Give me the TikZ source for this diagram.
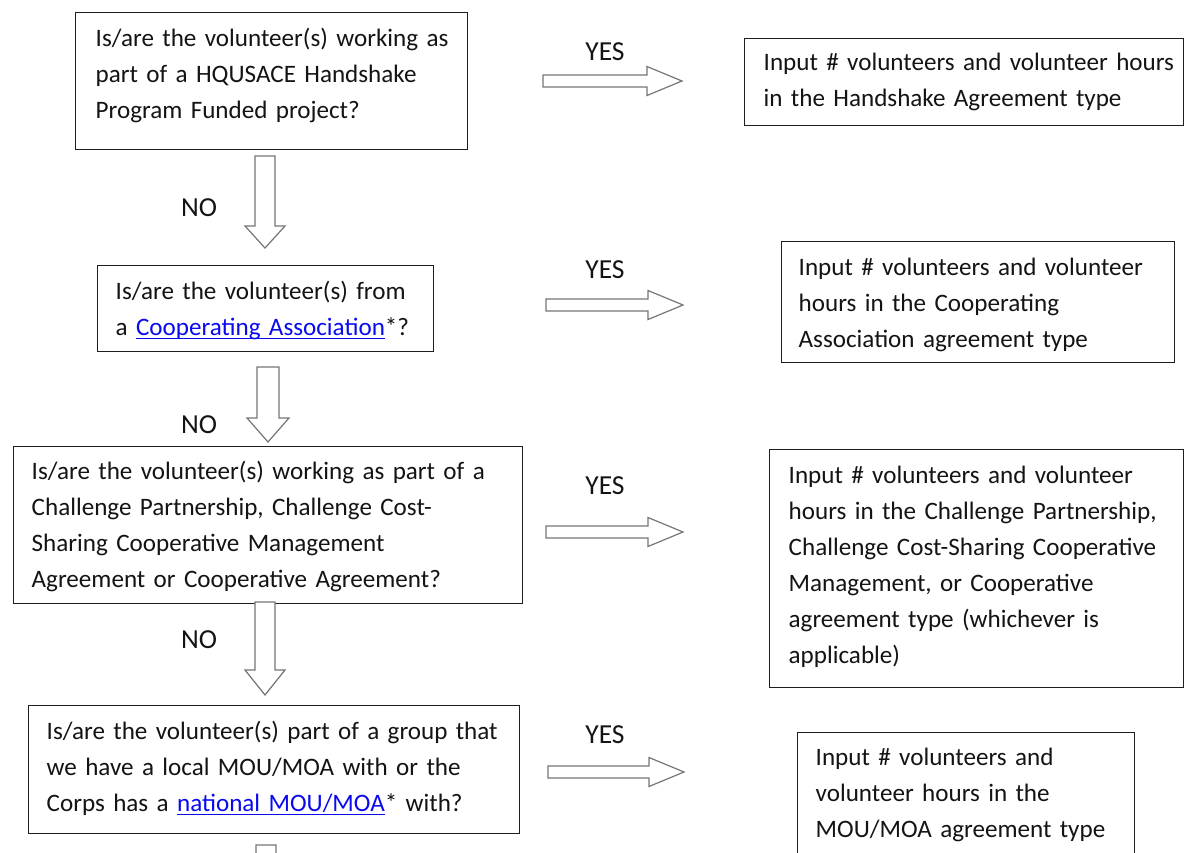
\documentclass[tikz,border=0pt]{standalone}
\usepackage{fontspec}
\setmainfont{Carlito}
\usetikzlibrary{calc}
\definecolor{linkblue}{RGB}{10,10,240}
\definecolor{arrowgray}{RGB}{118,118,118}
\definecolor{boxline}{RGB}{30,30,30}
\newcommand\lnk[1]{\textcolor{linkblue}{\setbox0\hbox{#1}\rlap{\rule[-3.5pt]{\wd0}{1.3pt}}\box0}}
\newcommand\hblock[5]{\draw[blockarrow] let \p1=(#1), \p2=(#2) in
  (\x1,\y1+#3) -- (\x2-#5,\y1+#3) -- (\x2-#5,\y1+#4) -- (\x2,\y1) --
  (\x2-#5,\y1-#4) -- (\x2-#5,\y1-#3) -- (\x1,\y1-#3) -- cycle;}
\newcommand\vblock[5]{\draw[blockarrow] let \p1=(#1), \p2=(#2) in
  (\x1-#3,\y1) -- (\x1+#3,\y1) -- (\x1+#3,\y2+#5) -- (\x1+#4,\y2+#5) --
  (\x1,\y2) -- (\x1-#4,\y2+#5) -- (\x1-#3,\y2+#5) -- cycle;}
\tikzset{
  txt/.style={font=\fontsize{25.1}{36}\selectfont, text=black!92},
  box/.style={txt, draw=boxline, line width=1.4pt, anchor=north west,
    inner ysep=0pt, align=left},
  lbl/.style={font=\fontsize{27.5}{36}\selectfont, text=black!92, anchor=base, inner sep=0pt},
  blockarrow/.style={draw=arrowgray, line width=1.2pt, fill=white, line join=miter},
}
\begin{document}
\begin{tikzpicture}[x=1pt, y=-1pt]
\useasboundingbox (0,0) rectangle (1184,852);
\clip (0,0) rectangle (1184,852);
\fill[white] (0,0) rectangle (1184,852);

% question boxes
\node[box, inner xsep=20pt, text width=352pt, text height=34pt, text depth=103pt] (q1) at (75,12)
  {\mbox{Is/are the volunteer(s) working as}\\\mbox{part of a HQUSACE Handshake}\\\mbox{Program Funded project?}};
\node[box, inner xsep=18pt, text width=300pt, text height=34pt, text depth=52pt] (q2) at (97,265)
  {\mbox{Is/are the volunteer(s) from}\\\mbox{a \lnk{Cooperating Association}*?}};
\node[box, inner xsep=18pt, text width=473pt, text height=33pt, text depth=124pt] (q3) at (13,446)
  {\mbox{Is/are the volunteer(s) working as part of a}\\\mbox{Challenge Partnership, Challenge Cost-}\\\mbox{Sharing Cooperative Management}\\\mbox{Agreement or Cooperative Agreement?}};
\node[box, inner xsep=18pt, text width=455pt, text height=34pt, text depth=94pt] (q4) at (28,705)
  {\mbox{Is/are the volunteer(s) part of a group that}\\\mbox{we have a local MOU/MOA with or the}\\\mbox{Corps has a \lnk{national MOU/MOA}* with?}};

% answer boxes
\node[box, inner xsep=19pt, text width=401pt, text height=32pt, text depth=55pt] (r1) at (744,38)
  {\mbox{Input \# volunteers and volunteer hours}\\\mbox{in the Handshake Agreement type}};
\node[box, inner xsep=17pt, text width=359pt, text height=34pt, text depth=87pt] (r2) at (781,241)
  {\mbox{Input \# volunteers and volunteer}\\\mbox{hours in the Cooperating}\\\mbox{Association agreement type}};
\node[box, inner xsep=19pt, text width=376pt, text height=34pt, text depth=204pt] (r3) at (769,449)
  {\mbox{Input \# volunteers and volunteer}\\\mbox{hours in the Challenge Partnership,}\\\mbox{Challenge Cost-Sharing Cooperative}\\\mbox{Management, or Cooperative}\\\mbox{agreement type (whichever is}\\\mbox{applicable)}};
\node[box, inner xsep=18pt, text width=301pt, text height=33pt, text depth=140pt] (r4) at (797,732)
  {\mbox{Input \# volunteers and}\\\mbox{volunteer hours in the}\\\mbox{MOU/MOA agreement type}};

% labels
\node[lbl] (y1) at (605,60) {YES};
\node[lbl] (y2) at (605,278) {YES};
\node[lbl] (y3) at (605,494) {YES};
\node[lbl] (y4) at (605,743) {YES};
\node[lbl] (n1) at (199,216) {NO};
\node[lbl] (n2) at (199,433) {NO};
\node[lbl] (n3) at (199,648) {NO};

% arrow end points
\coordinate (h1s) at (543,81);  \coordinate (h1t) at (682,81);
\coordinate (h2s) at (546,305); \coordinate (h2t) at (683,305);
\coordinate (h3s) at (546,532); \coordinate (h3t) at (683,532);
\coordinate (h4s) at (548,772); \coordinate (h4t) at (684,772);
\coordinate (v1s) at (265,156); \coordinate (v1t) at (265,248);
\coordinate (v2s) at (268,367); \coordinate (v2t) at (268,442);
\coordinate (v3s) at (265,602); \coordinate (v3t) at (265,695);
\coordinate (v4s) at (266,845); \coordinate (v4t) at (266,940);

\hblock{h1s}{h1t}{6}{14.5}{35}
\hblock{h2s}{h2t}{6}{14.5}{35}
\hblock{h3s}{h3t}{6}{14.5}{35}
\hblock{h4s}{h4t}{6}{14.5}{35}
\vblock{v1s}{v1t}{10}{20}{22}
\vblock{v2s}{v2t}{11}{21}{24}
\vblock{v3s}{v3t}{10}{20}{25}
\vblock{v4s}{v4t}{10}{20}{24}
\end{tikzpicture}
\end{document}
